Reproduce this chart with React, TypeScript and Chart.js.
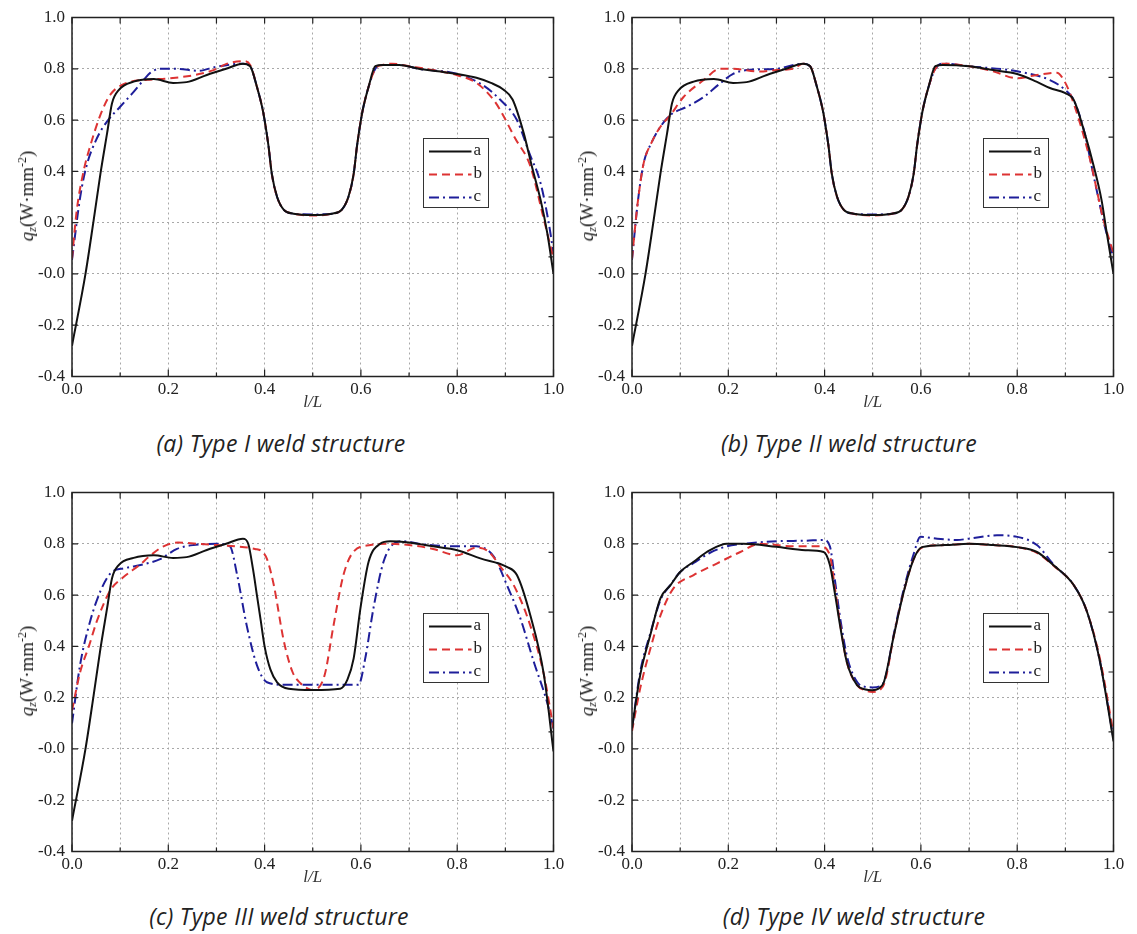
import React, { useEffect, useRef } from "react";
import { Chart, registerables } from "chart.js";

Chart.register(...registerables);

type Pt = [number, number];

const SERIES_LABELS = ["a", "b", "c"];
const X_LABEL = "l/L";
const CAPTIONS = [
  "(a) Type I weld structure",
  "(b) Type II weld structure",
  "(c) Type III weld structure",
  "(d) Type IV weld structure",
];

// ---------- Panel (a) ----------
const A_BLACK: Pt[] = [[0,-0.28],[0.028,0],[0.045,0.21],[0.059,0.39],[0.073,0.55],[0.083,0.665],[0.097,0.717],[0.128,0.75],[0.17,0.76],[0.21,0.745],[0.238,0.748],[0.28,0.776],[0.32,0.80],[0.355,0.82],[0.37,0.81],[0.384,0.73],[0.395,0.65],[0.40,0.60],[0.408,0.50],[0.415,0.39],[0.426,0.30],[0.44,0.25],[0.46,0.235],[0.50,0.23],[0.54,0.235],[0.56,0.25],[0.574,0.30],[0.585,0.39],[0.592,0.50],[0.60,0.60],[0.605,0.65],[0.616,0.73],[0.63,0.81],[0.645,0.815],[0.68,0.815],[0.72,0.80],[0.76,0.79],[0.80,0.78],[0.84,0.765],[0.87,0.745],[0.895,0.72],[0.915,0.68],[0.938,0.55],[0.955,0.42],[0.973,0.29],[0.987,0.16],[1.0,0.0]];
const A_RED: Pt[] = [[0,0.06],[0.01,0.25],[0.024,0.40],[0.038,0.50],[0.059,0.62],[0.08,0.70],[0.114,0.745],[0.156,0.757],[0.197,0.762],[0.253,0.775],[0.294,0.795],[0.322,0.82],[0.356,0.83],[0.37,0.815],[0.384,0.73],[0.395,0.65],[0.40,0.60],[0.408,0.50],[0.415,0.39],[0.426,0.30],[0.44,0.25],[0.46,0.235],[0.50,0.228],[0.54,0.235],[0.56,0.25],[0.574,0.30],[0.585,0.39],[0.592,0.50],[0.60,0.60],[0.605,0.65],[0.616,0.73],[0.63,0.80],[0.645,0.815],[0.665,0.82],[0.70,0.81],[0.75,0.795],[0.80,0.775],[0.84,0.745],[0.875,0.68],[0.889,0.64],[0.92,0.53],[0.952,0.42],[0.979,0.22],[1.0,0.06]];
const A_BLUE: Pt[] = [[0,0.055],[0.017,0.30],[0.03,0.42],[0.052,0.53],[0.073,0.595],[0.10,0.652],[0.128,0.71],[0.149,0.757],[0.163,0.785],[0.183,0.80],[0.218,0.80],[0.262,0.792],[0.30,0.808],[0.356,0.82],[0.37,0.81],[0.384,0.73],[0.395,0.65],[0.40,0.60],[0.408,0.50],[0.415,0.39],[0.426,0.30],[0.44,0.25],[0.46,0.235],[0.50,0.232],[0.54,0.235],[0.56,0.25],[0.574,0.30],[0.585,0.39],[0.592,0.50],[0.60,0.60],[0.605,0.65],[0.616,0.73],[0.63,0.80],[0.645,0.815],[0.68,0.815],[0.72,0.80],[0.80,0.78],[0.85,0.74],[0.889,0.68],[0.924,0.60],[0.95,0.47],[0.973,0.355],[0.99,0.20],[1.0,0.08]];

// ---------- Panel (b) ----------
const B_BLACK: Pt[] = [[0,-0.28],[0.028,0],[0.045,0.21],[0.059,0.39],[0.073,0.55],[0.083,0.665],[0.097,0.717],[0.128,0.75],[0.17,0.76],[0.21,0.745],[0.238,0.748],[0.28,0.776],[0.32,0.80],[0.355,0.82],[0.37,0.81],[0.384,0.73],[0.395,0.65],[0.40,0.60],[0.408,0.50],[0.415,0.39],[0.426,0.30],[0.44,0.25],[0.46,0.235],[0.50,0.23],[0.54,0.235],[0.56,0.25],[0.574,0.30],[0.585,0.39],[0.592,0.50],[0.60,0.60],[0.605,0.65],[0.616,0.73],[0.63,0.81],[0.645,0.815],[0.70,0.81],[0.75,0.795],[0.80,0.78],[0.84,0.75],[0.868,0.725],[0.90,0.705],[0.917,0.68],[0.94,0.55],[0.959,0.42],[0.975,0.29],[0.986,0.16],[1.0,0.0]];
const B_RED: Pt[] = [[0,0.06],[0.012,0.28],[0.024,0.43],[0.04,0.51],[0.059,0.574],[0.08,0.62],[0.107,0.69],[0.149,0.756],[0.183,0.80],[0.21,0.80],[0.266,0.789],[0.30,0.795],[0.335,0.80],[0.355,0.82],[0.37,0.81],[0.384,0.73],[0.395,0.65],[0.40,0.60],[0.408,0.50],[0.415,0.39],[0.426,0.30],[0.44,0.25],[0.46,0.235],[0.50,0.228],[0.54,0.235],[0.56,0.25],[0.574,0.30],[0.585,0.39],[0.592,0.50],[0.60,0.60],[0.605,0.65],[0.616,0.73],[0.63,0.80],[0.647,0.82],[0.70,0.81],[0.75,0.79],[0.80,0.763],[0.841,0.776],[0.882,0.785],[0.90,0.745],[0.92,0.65],[0.952,0.44],[0.978,0.22],[1.0,0.08]];
const B_BLUE: Pt[] = [[0,0.055],[0.012,0.28],[0.024,0.43],[0.04,0.51],[0.059,0.574],[0.08,0.62],[0.114,0.652],[0.149,0.69],[0.183,0.743],[0.21,0.78],[0.238,0.795],[0.30,0.80],[0.355,0.82],[0.37,0.81],[0.384,0.73],[0.395,0.65],[0.40,0.60],[0.408,0.50],[0.415,0.39],[0.426,0.30],[0.44,0.25],[0.46,0.235],[0.50,0.232],[0.54,0.235],[0.56,0.25],[0.574,0.30],[0.585,0.39],[0.592,0.50],[0.60,0.60],[0.605,0.65],[0.616,0.73],[0.63,0.80],[0.647,0.82],[0.70,0.81],[0.80,0.79],[0.868,0.756],[0.90,0.717],[0.917,0.68],[0.94,0.55],[0.959,0.38],[0.98,0.20],[1.0,0.06]];

// ---------- Panel (c) ----------
const C_BLACK: Pt[] = [[0,-0.28],[0.028,0],[0.045,0.21],[0.059,0.39],[0.073,0.55],[0.083,0.665],[0.097,0.717],[0.128,0.745],[0.17,0.755],[0.21,0.745],[0.238,0.748],[0.28,0.776],[0.32,0.80],[0.355,0.82],[0.366,0.80],[0.376,0.70],[0.384,0.60],[0.392,0.50],[0.40,0.40],[0.412,0.31],[0.426,0.26],[0.45,0.235],[0.50,0.23],[0.557,0.235],[0.572,0.27],[0.585,0.353],[0.599,0.548],[0.616,0.73],[0.64,0.80],[0.661,0.81],[0.70,0.805],[0.75,0.79],[0.80,0.775],[0.848,0.743],[0.903,0.71],[0.924,0.678],[0.952,0.52],[0.98,0.29],[1.0,-0.01]];
const C_RED: Pt[] = [[0,0.15],[0.017,0.30],[0.035,0.40],[0.052,0.50],[0.08,0.62],[0.107,0.67],[0.142,0.72],[0.16,0.75],[0.19,0.79],[0.22,0.805],[0.26,0.80],[0.30,0.795],[0.34,0.79],[0.38,0.78],[0.395,0.77],[0.405,0.74],[0.419,0.64],[0.44,0.42],[0.458,0.30],[0.475,0.255],[0.49,0.235],[0.50,0.23],[0.51,0.235],[0.525,0.29],[0.543,0.48],[0.564,0.68],[0.585,0.77],[0.62,0.795],[0.66,0.80],[0.70,0.795],[0.75,0.78],[0.80,0.755],[0.84,0.785],[0.865,0.77],[0.89,0.71],[0.917,0.64],[0.952,0.48],[0.98,0.29],[1.0,0.08]];
const C_BLUE: Pt[] = [[0,0.10],[0.017,0.33],[0.038,0.50],[0.059,0.615],[0.08,0.685],[0.11,0.705],[0.149,0.72],[0.183,0.74],[0.218,0.78],[0.252,0.795],[0.30,0.80],[0.328,0.79],[0.343,0.678],[0.363,0.48],[0.384,0.327],[0.405,0.26],[0.44,0.25],[0.55,0.25],[0.595,0.25],[0.609,0.353],[0.626,0.548],[0.647,0.73],[0.668,0.80],[0.689,0.81],[0.72,0.80],[0.80,0.79],[0.84,0.79],[0.876,0.75],[0.903,0.64],[0.931,0.51],[0.959,0.34],[0.987,0.18],[1.0,0.08]];

// ---------- Panel (d) ----------
const D_BLACK: Pt[] = [[0,0.08],[0.017,0.288],[0.038,0.444],[0.059,0.587],[0.08,0.639],[0.10,0.69],[0.128,0.73],[0.162,0.775],[0.197,0.80],[0.232,0.80],[0.30,0.788],[0.36,0.775],[0.398,0.768],[0.411,0.717],[0.422,0.60],[0.432,0.483],[0.446,0.34],[0.467,0.25],[0.485,0.232],[0.499,0.229],[0.512,0.235],[0.523,0.26],[0.544,0.444],[0.564,0.61],[0.585,0.74],[0.602,0.787],[0.65,0.795],[0.70,0.80],[0.75,0.795],[0.80,0.787],[0.841,0.768],[0.875,0.717],[0.917,0.64],[0.945,0.535],[0.972,0.34],[1.0,0.03]];
const D_RED: Pt[] = [[0,0.07],[0.017,0.236],[0.038,0.39],[0.059,0.52],[0.086,0.626],[0.128,0.678],[0.176,0.723],[0.225,0.768],[0.266,0.80],[0.335,0.79],[0.39,0.79],[0.41,0.76],[0.422,0.62],[0.432,0.49],[0.446,0.34],[0.467,0.25],[0.485,0.228],[0.50,0.222],[0.515,0.23],[0.525,0.26],[0.544,0.444],[0.564,0.61],[0.585,0.74],[0.602,0.785],[0.65,0.795],[0.70,0.80],[0.75,0.795],[0.80,0.787],[0.841,0.765],[0.875,0.715],[0.917,0.64],[0.945,0.535],[0.972,0.35],[1.0,0.06]];
const D_BLUE: Pt[] = [[0,0.08],[0.017,0.30],[0.038,0.45],[0.059,0.58],[0.08,0.64],[0.10,0.69],[0.128,0.725],[0.162,0.765],[0.197,0.79],[0.232,0.80],[0.30,0.81],[0.36,0.812],[0.398,0.815],[0.411,0.79],[0.422,0.65],[0.434,0.49],[0.448,0.35],[0.468,0.26],[0.485,0.242],[0.50,0.24],[0.515,0.245],[0.525,0.27],[0.544,0.45],[0.564,0.62],[0.585,0.76],[0.599,0.827],[0.634,0.82],[0.675,0.815],[0.70,0.82],[0.758,0.833],[0.80,0.827],[0.841,0.795],[0.875,0.72],[0.917,0.64],[0.945,0.535],[0.972,0.34],[1.0,0.04]];

const PANELS: Pt[][][] = [
  [A_BLACK, A_RED, A_BLUE],
  [B_BLACK, B_RED, B_BLUE],
  [C_BLACK, C_RED, C_BLUE],
  [D_BLACK, D_RED, D_BLUE],
];

const COLORS = ["#111111", "#dd3333", "#1e1e9a"];
const DASHES: number[][] = [[], [8, 5], [10, 4, 2, 4]];
const SERIF = '"Liberation Serif", "DejaVu Serif", "Noto Serif", "Times New Roman", Times, serif';

const framePlugin = {
  id: "frameTicksLegend",
  afterDraw(chart: any) {
    const { ctx, chartArea } = chart;
    const { left, top, right, bottom } = chartArea;
    const xs = chart.scales.x;
    const ys = chart.scales.y;
    ctx.save();
    ctx.strokeStyle = "#222";
    ctx.lineWidth = 1.2;
    ctx.setLineDash([]);
    ctx.beginPath();
    xs.ticks.forEach((t: any, i: number) => {
      const p = xs.getPixelForValue(t.value);
      const major = i % 2 === 0;
      ctx.moveTo(p, bottom);
      ctx.lineTo(p, bottom - (major ? 7 : 4));
      ctx.moveTo(p, top);
      ctx.lineTo(p, top + 6);
    });
    ys.ticks.forEach((t: any) => {
      const p = ys.getPixelForValue(t.value);
      ctx.moveTo(left, p);
      ctx.lineTo(left + 6, p);
    });
    const h = bottom - top;
    for (let i = 1; i < 6; i++) {
      const p = top + (h * i) / 6;
      ctx.moveTo(right, p);
      ctx.lineTo(right - 5, p);
    }
    ctx.stroke();
    ctx.lineWidth = 1.5;
    ctx.strokeRect(left, top, right - left, bottom - top);
    const lx = Math.round(left + 0.728 * (right - left)) + 0.5;
    const ly = Math.round(top + 0.335 * h) + 0.5;
    const lw = 65;
    const lh = 69;
    ctx.fillStyle = "#fff";
    ctx.fillRect(lx, ly, lw, lh);
    ctx.strokeStyle = "#333";
    ctx.lineWidth = 1;
    ctx.strokeRect(lx, ly, lw, lh);
    ctx.font = `17px ${SERIF}`;
    ctx.textBaseline = "middle";
    ctx.textAlign = "left";
    chart.data.datasets.forEach((ds: any, i: number) => {
      const yy = ly + 13 + i * 23;
      ctx.strokeStyle = ds.borderColor;
      ctx.lineWidth = 2;
      ctx.setLineDash(ds.borderDash || []);
      ctx.beginPath();
      ctx.moveTo(lx + 5.5, yy);
      ctx.lineTo(lx + 48, yy);
      ctx.stroke();
      ctx.setLineDash([]);
      ctx.fillStyle = "#222";
      ctx.fillText(ds.label, lx + 50, yy - 1);
    });
    ctx.restore();
  },
};

function Panel({ idx, left, top }: { idx: number; left: number; top: number }) {
  const ref = useRef<HTMLCanvasElement | null>(null);
  useEffect(() => {
    if (!ref.current) return;
    const series = PANELS[idx];
    const chart = new Chart(ref.current, {
      type: "line",
      data: {
        datasets: series.map((pts, i) => ({
          label: SERIES_LABELS[i],
          data: pts.map(([x, y]) => ({ x, y })),
          borderColor: COLORS[i],
          borderDash: DASHES[i],
          borderWidth: 2,
          pointRadius: 0,
          fill: false,
          cubicInterpolationMode: "monotone",
        })),
      },
      options: {
        animation: false,
        responsive: false,
        layout: { padding: { left: 0, top: 17.5, right: 16.5, bottom: 0 } },
        plugins: { legend: { display: false }, tooltip: { enabled: false } },
        scales: {
          x: {
            type: "linear",
            min: 0,
            max: 1,
            ticks: {
              stepSize: 0.1,
              autoSkip: false,
              maxRotation: 0,
              padding: 3,
              color: "#222",
              font: { family: SERIF, size: 17 },
              callback: (v: any, i: number) => (i % 2 === 0 ? Number(v).toFixed(1) : ""),
            },
            grid: { color: "#a8a8a8", lineWidth: 1, drawTicks: false },
            border: { display: false, dash: [2, 3] },
            title: {
              display: true,
              text: X_LABEL,
              color: "#333",
              font: { family: SERIF, size: 17, style: "italic" },
              padding: { top: 0, bottom: 7 },
            },
            afterFit: (s: any) => {
              s.height = 43.5;
            },
          },
          y: {
            type: "linear",
            min: -0.4,
            max: 1.0,
            ticks: {
              stepSize: 0.2,
              padding: 7,
              color: "#222",
              font: { family: SERIF, size: 17 },
              callback: (v: any) => Number(v).toFixed(1),
            },
            grid: { color: "#a8a8a8", lineWidth: 1, drawTicks: false },
            border: { display: false, dash: [2, 3] },
            afterFit: (s: any) => {
              s.width = 72;
            },
          },
        },
      } as any,
      plugins: [framePlugin],
    } as any);
    return () => chart.destroy();
  }, [idx]);

  return (
    <>
      <canvas
        ref={ref}
        width={570}
        height={420}
        style={{ position: "absolute", left, top, width: 570, height: 420 }}
      />
      <div
        style={{
          position: "absolute",
          left: left + 27,
          top: top + 196,
          transform: "translate(-50%, -50%) rotate(-90deg)",
          whiteSpace: "nowrap",
          fontFamily: SERIF,
          fontSize: 19,
          color: "#222",
          lineHeight: "20px",
        }}
      >
        <span style={{ fontStyle: "italic" }}>q</span>
        <sub style={{ fontSize: 12, fontStyle: "italic", verticalAlign: "-3px" }}>z</sub>
        (W·mm
        <sup style={{ fontSize: 12, verticalAlign: "7px" }}>-2</sup>)
      </div>
    </>
  );
}

const CAPTION_POS = [
  { x: 281, y: 443 },
  { x: 849, y: 443 },
  { x: 279, y: 916 },
  { x: 854, y: 916 },
];

export default function App() {
  return (
    <div
      style={{
        position: "absolute",
        left: 0,
        top: 0,
        width: 1137,
        height: 934,
        background: "#fff",
        overflow: "hidden",
      }}
    >
      <Panel idx={0} left={0} top={0} />
      <Panel idx={1} left={560} top={0} />
      <Panel idx={2} left={0} top={475} />
      <Panel idx={3} left={560} top={475} />
      {CAPTIONS.map((c, i) => (
        <div
          key={i}
          style={{
            position: "absolute",
            left: CAPTION_POS[i].x,
            top: CAPTION_POS[i].y,
            transform: "translate(-50%, -50%)",
            whiteSpace: "nowrap",
            fontFamily: '"Open Sans", "Noto Sans", sans-serif',
            fontStyle: "italic",
            fontSize: 23,
            letterSpacing: "0.3px",
            color: "#222",
            lineHeight: "28px",
          }}
        >
          {c}
        </div>
      ))}
    </div>
  );
}
